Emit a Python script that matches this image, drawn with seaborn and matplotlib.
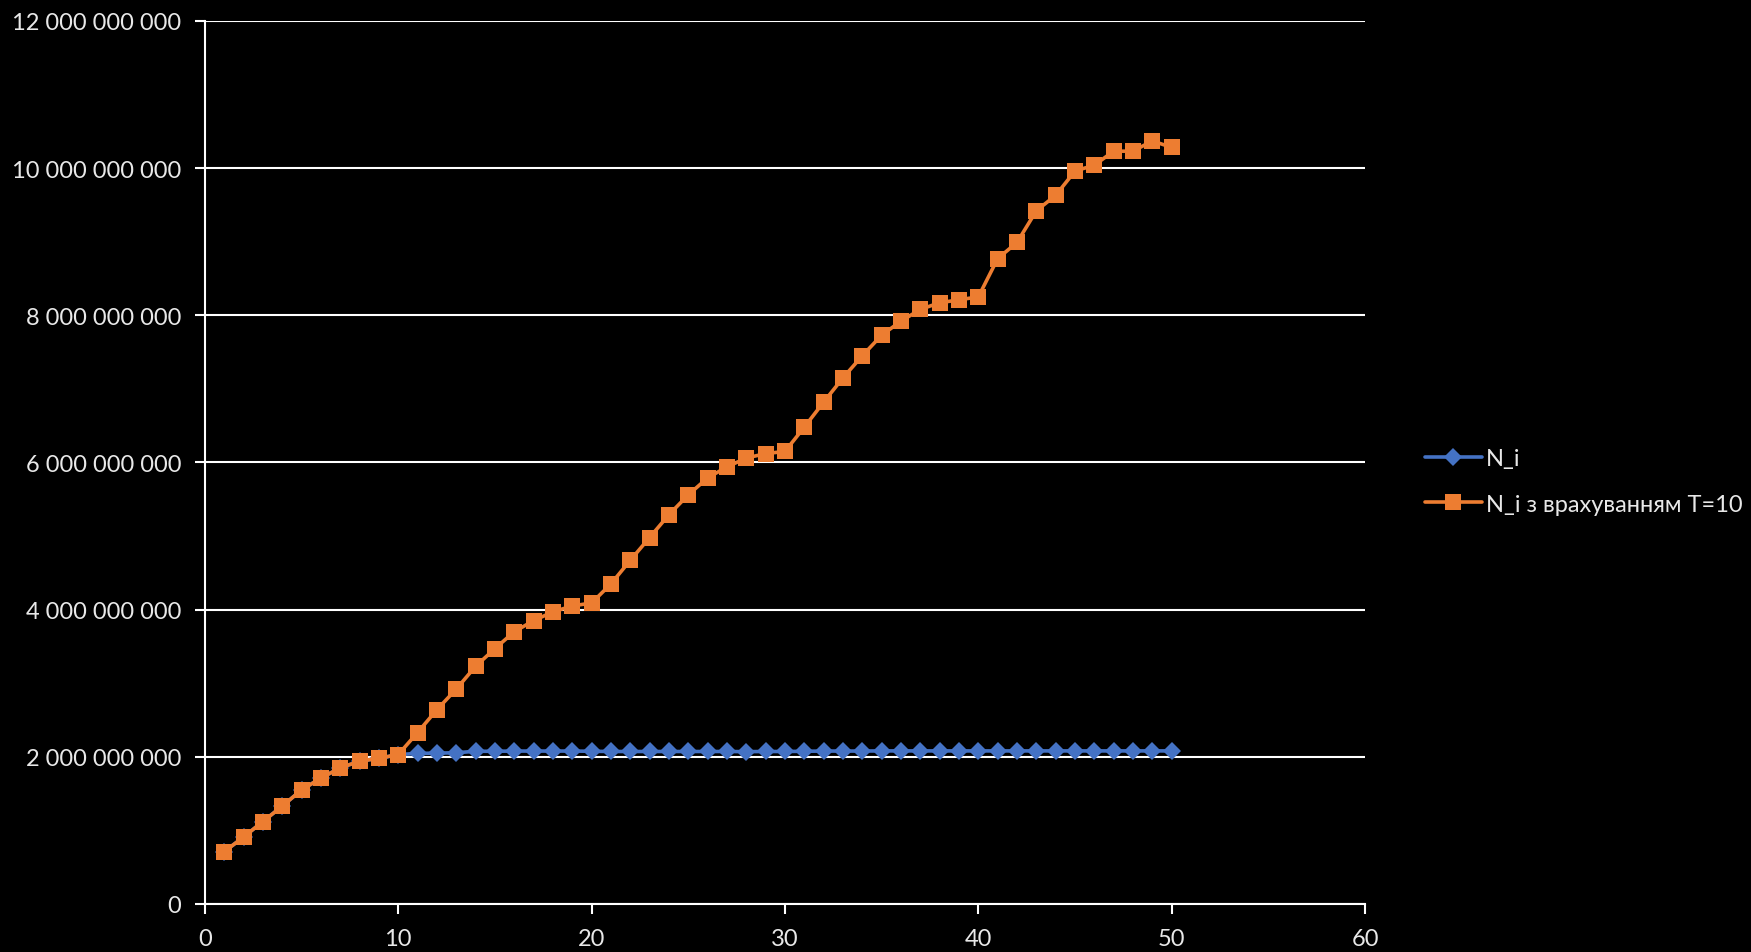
import matplotlib
matplotlib.use("Agg")
import matplotlib.pyplot as plt
import matplotlib.ticker as mticker
import seaborn as sns
import pandas as pd

x_vals = list(range(1, 51))

orange_vals = [0.71e9, 0.91e9, 1.12e9, 1.33e9, 1.55e9, 1.71e9, 1.85e9, 1.94e9, 1.98e9, 2.03e9,
               2.33e9, 2.64e9, 2.92e9, 3.23e9, 3.47e9, 3.70e9, 3.85e9, 3.97e9, 4.05e9, 4.09e9,
               4.35e9, 4.67e9, 4.98e9, 5.29e9, 5.56e9, 5.79e9, 5.94e9, 6.06e9, 6.12e9, 6.15e9,
               6.48e9, 6.82e9, 7.15e9, 7.45e9, 7.73e9, 7.92e9, 8.08e9, 8.17e9, 8.21e9, 8.25e9,
               8.77e9, 8.99e9, 9.42e9, 9.63e9, 9.96e9, 10.04e9, 10.23e9, 10.23e9, 10.37e9, 10.28e9]

blue_vals = [0.71e9, 0.91e9, 1.12e9, 1.33e9, 1.55e9, 1.71e9, 1.85e9, 1.94e9, 1.98e9, 2.03e9,
             2.046e9, 2.05e9, 2.055e9, 2.075e9, 2.075e9, 2.078e9, 2.078e9, 2.078e9, 2.078e9, 2.075e9,
             2.072e9, 2.072e9, 2.072e9, 2.072e9, 2.072e9, 2.072e9, 2.072e9, 2.07e9, 2.072e9, 2.072e9,
             2.075e9, 2.078e9, 2.078e9, 2.078e9, 2.08e9, 2.08e9, 2.08e9, 2.08e9, 2.08e9, 2.08e9,
             2.08e9, 2.08e9, 2.08e9, 2.08e9, 2.08e9, 2.08e9, 2.08e9, 2.08e9, 2.08e9, 2.08e9]

series_names = ["N_i", "N_i з врахуванням T=10"]
colors = ["#4472C4", "#ED7D31"]
x_ticks = [0, 10, 20, 30, 40, 50, 60]
y_ticks = [0, 2e9, 4e9, 6e9, 8e9, 10e9, 12e9]

sns.set_style("dark")
plt.rcParams["font.family"] = ["Lato", "DejaVu Sans"]

fig = plt.figure(figsize=(17.51, 9.53), dpi=100, facecolor="black")
ax = fig.add_axes([0.117, 0.0504, 0.6626, 0.9266])
ax.set_facecolor("black")

df_blue = pd.DataFrame({"x": x_vals, "y": blue_vals})
df_orange = pd.DataFrame({"x": x_vals, "y": orange_vals})

sns.lineplot(data=df_blue, x="x", y="y", ax=ax, color=colors[0], marker="D",
             markersize=9, markeredgewidth=0, linewidth=2.6, label=series_names[0], zorder=3)
sns.lineplot(data=df_orange, x="x", y="y", ax=ax, color=colors[1], marker="s",
             markersize=11, markeredgewidth=0, linewidth=2.6, label=series_names[1], zorder=4)

ax.set_xlim(0, 60)
ax.set_ylim(0, 12e9)
ax.set_xticks(x_ticks)
ax.set_yticks(y_ticks)
ax.yaxis.set_major_formatter(mticker.FuncFormatter(lambda v, p: f"{int(round(v)):,}".replace(",", " ")))
ax.set_xlabel("")
ax.set_ylabel("")

ax.grid(axis="y", color="white", linewidth=1.5)
ax.grid(axis="x", visible=False)
ax.set_axisbelow(True)
for s in ["top", "right"]:
    ax.spines[s].set_visible(False)
for s in ["left", "bottom"]:
    ax.spines[s].set_visible(True)
    ax.spines[s].set_color("white")
    ax.spines[s].set_linewidth(1.5)

ax.tick_params(axis="both", colors="white", labelcolor="#E8E8E8", labelsize=17,
               length=7, width=1.5, direction="out", left=True, bottom=True)
ax.tick_params(axis="y", pad=10)
ax.tick_params(axis="x", pad=10)

leg = ax.legend(loc="center left", bbox_to_anchor=(0.807, 0.494), bbox_transform=fig.transFigure,
                frameon=False, fontsize=17, labelcolor="#E8E8E8", handlelength=2.4,
                handletextpad=0.2, labelspacing=1.05, borderpad=0)

fig.savefig("out.png", dpi=100, facecolor="black")
